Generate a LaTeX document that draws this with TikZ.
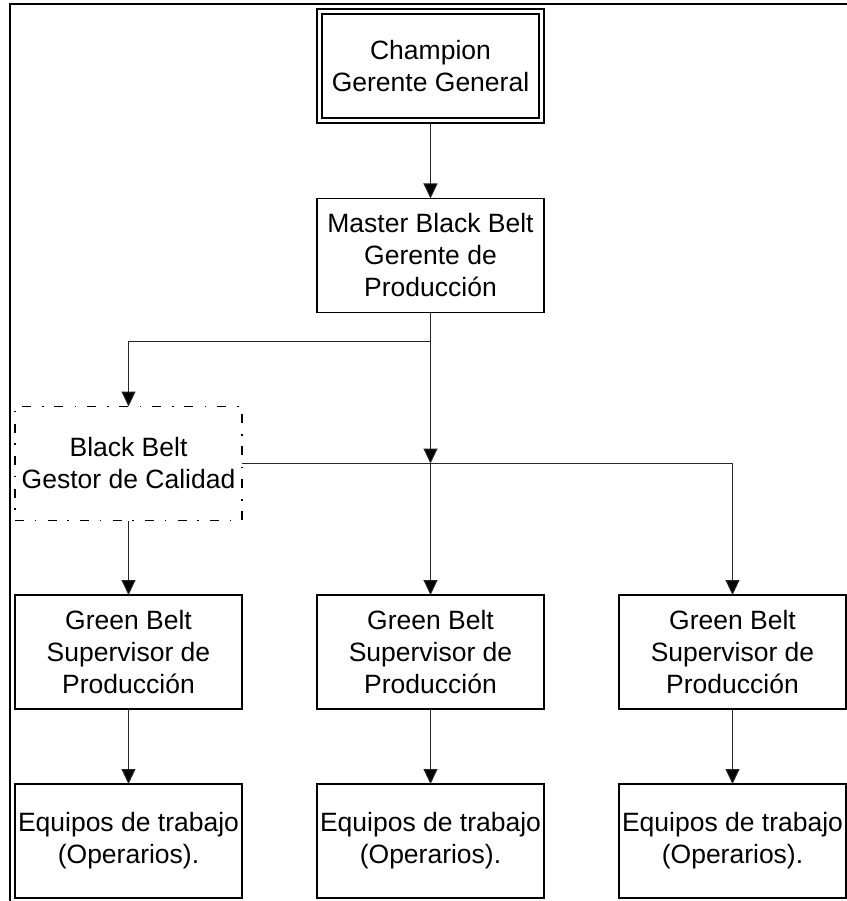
\documentclass[tikz,border=0pt]{standalone}
\usepackage{fontspec}
\setmainfont{Liberation Sans}
\usetikzlibrary{arrows.meta}
\begin{document}
\begin{tikzpicture}[x=1pt,y=-1pt,
  box/.style={draw, line width=1.5pt, minimum width=227pt, minimum height=114pt, inner sep=0pt, outer sep=0pt, align=center, font=\fontsize{26.5}{32}\selectfont},
  ddbox/.style={box, dash pattern=on 9pt off 10.5pt on 1.5pt off 11.5pt},
  conn/.style={draw=black!85, line width=1pt},
  arr/.style={conn, -{Triangle[width=14pt,length=15pt,fill=black]}}]
\useasboundingbox (0,0) rectangle (846,901);
\draw[line width=2pt] (9.5,910) -- (9.5,4.5) -- (850,4.5);

\node[box] (champ) at (430.5,66) {Champion\\Gerente General};
\draw[line width=1.5pt] ([shift={(5,5)}]champ.north west) rectangle ([shift={(-5,-5)}]champ.south east);
\node[box] (master) at (430.5,255.5) {Master Black Belt\\Gerente de\\Producción};
\node[ddbox] (bb) at (128.5,463.5) {Black Belt\\Gestor de Calidad};

\node[box] (gb1) at (128.5,652) {Green Belt\\Supervisor de\\Producción};
\node[box] (gb2) at (430.5,652) {Green Belt\\Supervisor de\\Producción};
\node[box] (gb3) at (732.5,652) {Green Belt\\Supervisor de\\Producción};

\node[box] (eq1) at (128.5,841) {Equipos de trabajo\\(Operarios).};
\node[box] (eq2) at (430.5,841) {Equipos de trabajo\\(Operarios).};
\node[box] (eq3) at (732.5,841) {Equipos de trabajo\\(Operarios).};

\coordinate (j1) at (430.5,341);
\coordinate (j2) at (430.5,463.5);

\draw[arr] (champ.south) -- (master.north);
\draw[conn] (master.south) -- (j1);
\draw[arr] (j1) -| (bb.north);
\draw[arr] (j1) -- (j2);
\draw[arr] (j2) -- (gb2.north);
\draw[arr] (bb.east) -| (gb3.north);
\draw[arr] (bb.south) -- (gb1.north);
\draw[arr] (gb1.south) -- (eq1.north);
\draw[arr] (gb2.south) -- (eq2.north);
\draw[arr] (gb3.south) -- (eq3.north);
\end{tikzpicture}
\end{document}
